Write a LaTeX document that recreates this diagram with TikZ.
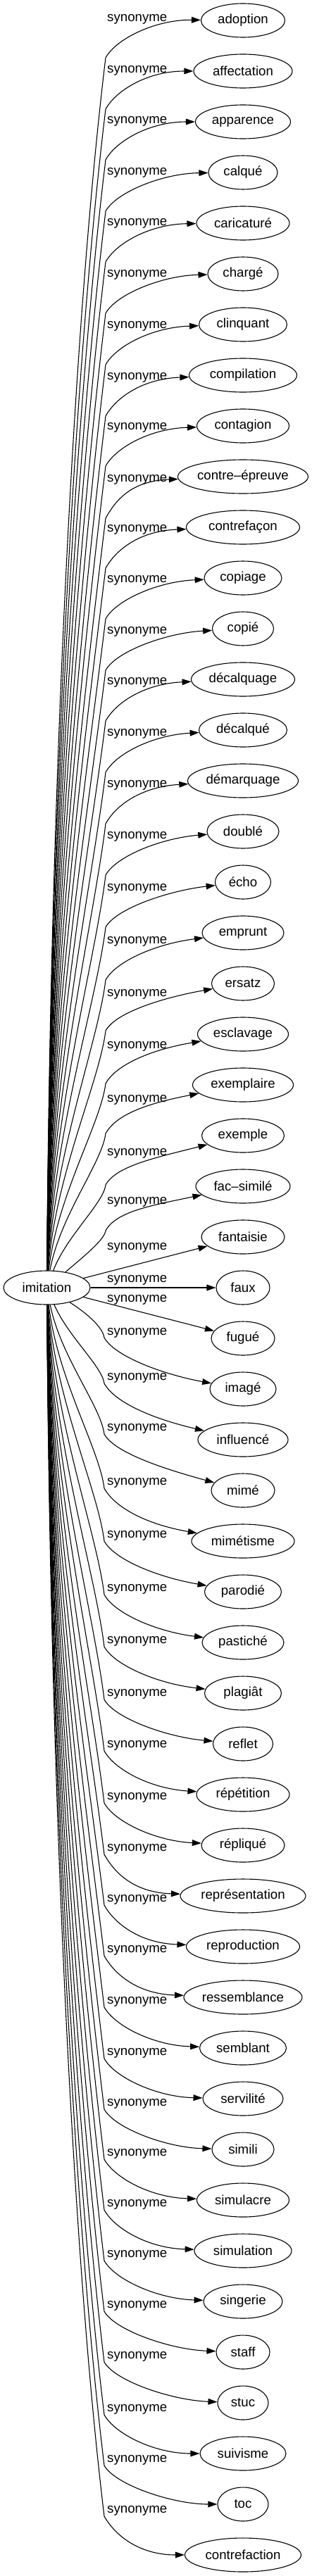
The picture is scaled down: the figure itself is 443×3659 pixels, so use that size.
\documentclass[tikz,border=0pt]{standalone}
\usepackage{fontspec}
\setmainfont{Liberation Sans}
\usetikzlibrary{shapes.geometric,arrows.meta}
\newcommand\gvfont{\fontsize{18.67pt}{22pt}\selectfont}
\begin{document}
\begin{tikzpicture}[x=1pt,y=-1pt,
  tgt/.style={ellipse,draw,line width=1.1pt,minimum height=48pt,inner sep=0pt,font=\gvfont},
  lbl/.style={anchor=west,inner sep=0pt,font=\gvfont},
  synarrow/.style={line width=1.1pt,-{Triangle[length=13pt,width=8.7pt]}}]
\useasboundingbox (0,0) rectangle (443,3659);
\node[tgt,minimum width=123pt] (imit) at (66.5,1829) {imitation};
% upper edges
\foreach \kk/\txt/\nw/\dl/\wo in {0/adoption/119/-2/55,1/affectation/140/-1/55,2/apparence/135/-1/55,3/calqué/98/0/55,4/caricaturé/132/0/55,5/chargé/100/1/55,6/clinquant/125/2/55,7/compilation/153/3/55,8/contagion/131/2/55,9/contre–épreuve/185/4/55,10/contrefaçon/161/3/55,11/copiage/110/3/55,12/copié/87/4/55,13/décalquage/147/4/55,14/décalqué/125/5/55,15/démarquage/157/6/55,16/doublé/102/7/55,17/écho/79/9/55,18/emprunt/116/12/55,19/ersatz/89/15/52,20/esclavage/129/17/53,21/exemplaire/143/21/48,22/exemple/117/25/45,23/fac–similé/134/22/41}{
  \pgfmathsetmacro\Ty{29+72*\kk}
  \pgfmathsetmacro\Ly{\Ty+\dl}
  \pgfmathsetmacro\Wy{\Ly+\wo}
  \pgfmathsetmacro\Dd{1805-\Wy}
  \pgfmathsetmacro\cax{69.5+3000/\Dd}
  \pgfmathsetmacro\cay{1805-0.4*\Dd}
  \pgfmathsetmacro\cbx{150-0.026*\Dd}
  \pgfmathsetmacro\cby{\Wy+0.214*\Dd}
  \pgfmathsetmacro\ccy{\Wy-27}
  \pgfmathsetmacro\cdx{345-\nw/2-65}
  \pgfmathsetmacro\cdy{\Ty+1.2*(\dl+1)}
  \node[tgt,minimum width=\nw pt] (n\kk) at (345,\Ty) {\txt};
  \node[lbl] (l\kk) at (152,\Ly) {synonyme};
  \coordinate (w\kk) at (150,\Wy);
  \draw[synarrow] (imit) .. controls (\cax,\cay) and (\cbx,\cby) .. (w\kk)
     .. controls (165,\ccy) and (\cdx,\cdy) .. (n\kk);
}
% middle straight edges
\foreach \kk/\txt/\nw/\Ly in {24/fantaisie/118/1772,25/faux/76/1818,26/fugué/90/1846}{
  \pgfmathsetmacro\Ty{29+72*\kk}
  \node[tgt,minimum width=\nw pt] (n\kk) at (345,\Ty) {\txt};
  \node[lbl] (l\kk) at (152,\Ly) {synonyme};
  \draw[synarrow] (imit) -- (n\kk);
}
% lower edges
\foreach \kk/\txt/\nw/\dl/\wo in {27/imagé/94/-80/7,28/influencé/128/-88/8,29/mimé/90/-88/8,30/mimétisme/146/-83/8,31/parodié/109/-80/8,32/pastiché/116/-76/8,33/plagiât/109/-74/8,34/reflet/85/-71/8,35/répétition/132/-70/8,36/répliqué/118/-68/8,37/représentation/178/-67/8,38/reproduction/161/-67/8,39/ressemblance/168/-67/8,40/semblant/123/-66/8,41/servilité/114/-65/8,42/simili/88/-65/8,43/simulacre/131/-66/8,44/simulation/138/-66/8,45/singerie/112/-66/8,46/staff/76/-66/8,47/stuc/72/-66/8,48/suivisme/122/-63/8,49/toc/72/-63/8,50/contrefaction/165/-63/8}{
  \pgfmathsetmacro\Ty{29+72*\kk}
  \pgfmathsetmacro\Ly{\Ty+\dl}
  \pgfmathsetmacro\Wy{\Ly+\wo}
  \pgfmathsetmacro\Dd{\Wy-1853}
  \pgfmathsetmacro\cax{69.5+3000/\Dd}
  \pgfmathsetmacro\cay{1853+0.4*\Dd}
  \pgfmathsetmacro\cbx{148-0.026*\Dd}
  \pgfmathsetmacro\cby{\Wy-0.214*\Dd}
  \pgfmathsetmacro\ccy{\Wy+27}
  \pgfmathsetmacro\cdx{345-\nw/2-65}
  \pgfmathsetmacro\cdy{\Ty+1.2*(\dl+63)}
  \node[tgt,minimum width=\nw pt] (n\kk) at (345,\Ty) {\txt};
  \node[lbl] (l\kk) at (152,\Ly) {synonyme};
  \coordinate (w\kk) at (148,\Wy);
  \draw[synarrow] (imit) .. controls (\cax,\cay) and (\cbx,\cby) .. (w\kk)
     .. controls (163,\ccy) and (\cdx,\cdy) .. (n\kk);
}
\end{tikzpicture}
\end{document}
